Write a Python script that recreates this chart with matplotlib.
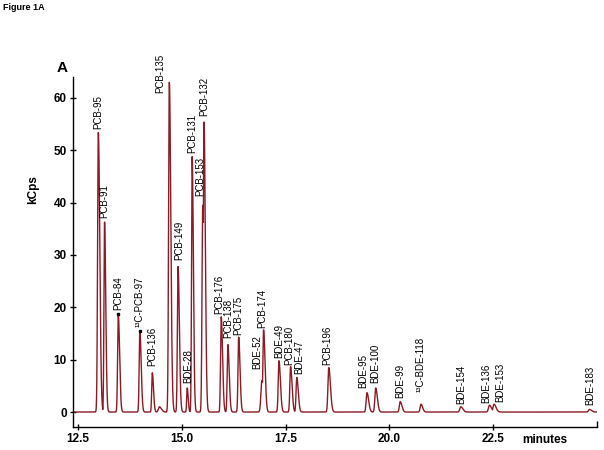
import numpy as np
import matplotlib
matplotlib.use("Agg")
import matplotlib.pyplot as plt

plt.rcParams['font.family'] = ['Liberation Sans', 'DejaVu Sans']

# ---- data ----
peak_names = ['PCB-95', 'PCB-91', 'PCB-84', '¹³C-PCB-97', 'PCB-136', '', 'PCB-135',
              'PCB-149', 'BDE-28', 'PCB-131', 'PCB-153', 'PCB-132', 'PCB-176',
              'PCB-138', 'PCB-175', 'BDE-52', 'PCB-174', 'BDE-49', 'PCB-180',
              'BDE-47', 'PCB-196', 'BDE-95', 'BDE-100', 'BDE-99', '¹³C-BDE-118',
              'BDE-154', 'BDE-136', 'BDE-153', 'BDE-183']
peak_times = [12.99, 13.14, 13.47, 13.99, 14.29, 14.46, 14.70,
              14.91, 15.13, 15.25, 15.505, 15.535, 15.95,
              16.11, 16.37, 16.93, 16.97, 17.34, 17.62,
              17.77, 18.54, 19.46, 19.67, 20.26, 20.76,
              21.72, 22.41, 22.52, 24.82]
peak_heights = [53.4, 36.3, 18.7, 15.5, 7.5, 1.0, 63.0,
                27.8, 4.6, 48.8, 39.5, 55.4, 18.2,
                12.9, 14.3, 6.0, 15.7, 9.8, 8.7,
                6.6, 8.5, 3.7, 4.6, 2.0, 1.5,
                1.0, 1.3, 1.5, 0.5]
peak_widths = [0.022, 0.018, 0.020, 0.020, 0.018, 0.030, 0.022,
               0.020, 0.015, 0.018, 0.022, 0.020, 0.020,
               0.020, 0.020, 0.030, 0.022, 0.022, 0.022,
               0.022, 0.025, 0.025, 0.025, 0.025, 0.025,
               0.030, 0.030, 0.030, 0.030]
# label anchor (time, bottom value)
label_times = [12.99, 13.14, 13.47, 13.99, 14.29, None, 14.49,
               14.93, 15.15, 15.25, 15.45, 15.53, 15.90,
               16.12, 16.37, 16.82, 16.93, 17.34, 17.60,
               17.84, 18.51, 19.37, 19.66, 20.25, 20.76,
               21.74, 22.33, 22.66, 24.84]
label_bottoms = [54.0, 37.1, 19.5, 16.3, 8.7, None, 61.0,
                 29.0, 5.5, 49.5, 41.3, 56.5, 18.7,
                 14.1, 14.7, 8.2, 16.0, 10.3, 9.0,
                 7.3, 9.0, 4.5, 5.5, 2.6, 3.9,
                 1.6, 1.8, 2.0, 1.4]
marked_peaks = ['PCB-84', '¹³C-PCB-97']

x_ticks = [12.5, 15.0, 17.5, 20.0, 22.5]
x_tick_labels = ['12.5', '15.0', '17.5', '20.0', '22.5']
y_ticks = [0, 10, 20, 30, 40, 50, 60]

# ---- build trace from the peak table ----
t = np.linspace(12.38, 25.0, 8000)
signal = np.zeros_like(t)
for tc, h, w in zip(peak_times, peak_heights, peak_widths):
    sig = np.where(t < tc, w * 0.8, w * 1.6)
    signal = np.maximum(signal, h * np.exp(-0.5 * ((t - tc) / sig) ** 2))

fig = plt.figure(figsize=(6.04, 4.5), dpi=100)
ax = fig.add_axes([73 / 604, 1 - 426.7 / 450, (597 - 73) / 604, (426.7 - 77) / 450])
col = '#8b1a24'
ax.plot(t, signal, color=col, lw=1.0)

for name, tc, h in zip(peak_names, peak_times, peak_heights):
    if name in marked_peaks:
        ax.plot([tc], [h], 's', color='black', ms=2)

for name, lt, lb in zip(peak_names, label_times, label_bottoms):
    if not name:
        continue
    ax.text(lt, lb, name, rotation=90, ha='center', va='bottom', fontsize=7,
            color='black')

ax.set_xlim(12.38, 25.0)
ax.set_ylim(-2.8, 64)
ax.set_xticks(x_ticks)
ax.set_xticklabels(x_tick_labels)
ax.set_xticks([25.0], minor=True)
ax.set_yticks(y_ticks)
for s in ['top', 'right']:
    ax.spines[s].set_visible(False)
for s in ['left', 'bottom']:
    ax.spines[s].set_linewidth(1.0)
ax.tick_params(axis='both', which='major', direction='inout', length=5, width=1,
               labelsize=8.5, pad=2)
ax.tick_params(axis='x', which='minor', direction='in', length=4, width=1)
for lab in ax.get_xticklabels() + ax.get_yticklabels():
    lab.set_fontweight('bold')

fig.text(33 / 604, 1 - 190 / 450, 'kCps', rotation=90, ha='center', va='center',
         fontsize=8.5, fontweight='bold')
fig.text(545 / 604, 1 - 440 / 450, 'minutes', ha='center', va='center',
         fontsize=8.5, fontweight='bold')
fig.text(62 / 604, 1 - 68 / 450, 'A', ha='center', va='center',
         fontsize=11, fontweight='bold')
fig.text(3 / 604, 1 - 8 / 450, 'Figure 1A', ha='left', va='center',
         fontsize=6.5, fontweight='bold')

fig.savefig('out.png', dpi=100)
